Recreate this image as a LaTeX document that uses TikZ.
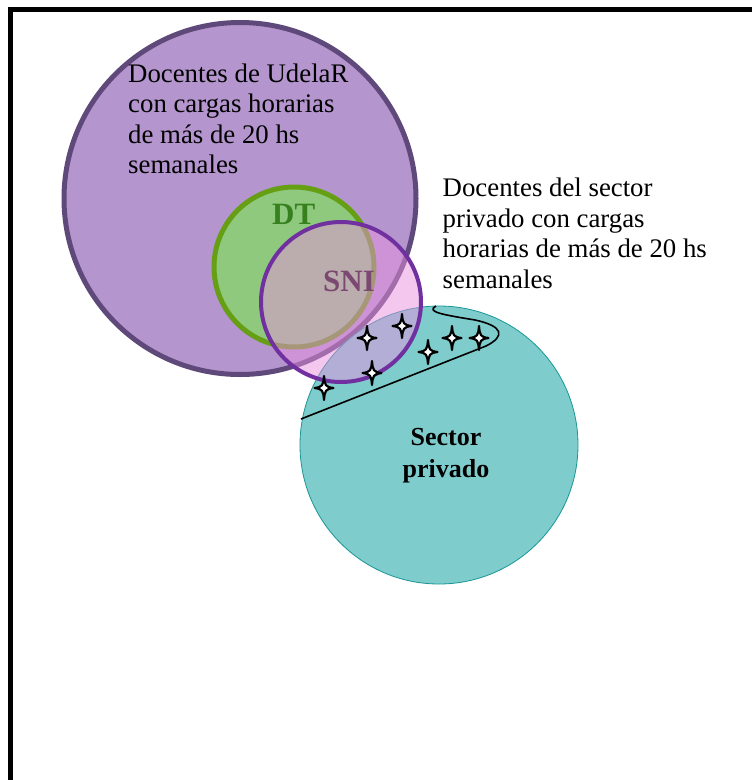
\documentclass[tikz,border=0pt]{standalone}
\usepackage{fontspec}
\setmainfont{Liberation Serif}
\definecolor{udfill}{RGB}{180,149,206}
\definecolor{udline}{RGB}{95,73,122}
\definecolor{dtfill}{RGB}{143,201,125}
\definecolor{dtline}{RGB}{102,158,20}
\definecolor{snifill}{RGB}{232,145,222}
\definecolor{sniline}{RGB}{112,48,160}
\definecolor{tealfill}{RGB}{127,204,204}
\definecolor{tealline}{RGB}{25,150,150}
\definecolor{dttext}{RGB}{55,128,30}
\definecolor{snitext}{RGB}{122,72,112}
\begin{document}
\begin{tikzpicture}[x=1pt,y=-1pt,
  txt/.style={inner sep=0pt, font=\fontsize{26.8}{30.5}\selectfont, align=left, anchor=base west},
  bigtxt/.style={inner sep=0pt, font=\bfseries\fontsize{26}{32}\selectfont},
  lbl/.style={inner sep=0pt, font=\bfseries\fontsize{31}{36}\selectfont, anchor=base west},
  ring/.style={circle, inner sep=0pt, outer sep=0pt},
  starpic/.pic={\draw[fill=white, line width=2.2pt, line join=round]
     (0,-12) .. controls (0.8,-2.5) and (1.5,-1) .. (9.5,0)
     .. controls (1.5,1) and (0.8,2.5) .. (0,12)
     .. controls (-0.8,2.5) and (-1.5,1) .. (-9.5,0)
     .. controls (-1.5,-1) and (-0.8,-2.5) .. (0,-12) -- cycle;}
]
\useasboundingbox (0,0) rectangle (752,780);
\fill[white] (0,0) rectangle (752,780);
% frame
\draw[line width=5pt] (10.5,800) -- (10.5,9.5) -- (780,9.5);
% circles
\node[ring, minimum size=352pt, draw=udline, fill=udfill, line width=5pt] (ud) at (240,198.5) {};
\node[ring, minimum size=160pt, draw=dtline, fill=dtfill, line width=5pt] (dt) at (294,267) {};
\node[ring, minimum size=278pt, draw=tealline, fill=tealfill, line width=0.8pt] (sp) at (439,445) {};
\node[ring, minimum size=160pt, draw=sniline, fill=snifill, fill opacity=0.5, draw opacity=1, line width=4pt] (sni) at (341,302) {};
% curve
\coordinate (c0) at (301,419);
\coordinate (c1) at (486,346);
\coordinate (c2) at (436,306);
\draw[line width=1.6pt] (c0) -- (c1) .. controls (506,336) and (503,326) .. (475,320) .. controls (445,315) and (425,312) .. (c2);
% stars
\pic (s1) at (324,388) {starpic};
\pic (s2) at (367,338) {starpic};
\pic (s3) at (402,326) {starpic};
\pic (s4) at (372,373) {starpic};
\pic (s5) at (428,352) {starpic};
\pic (s6) at (452,338) {starpic};
\pic (s7) at (479,338) {starpic};
% texts
\node[txt] (tud) at (128,173.8) {Docentes de UdelaR\\con cargas horarias\\de más de 20 hs\\semanales};
\node[txt] (tpr) at (442.5,288.2) {Docentes del sector\\privado con cargas\\horarias de más de 20 hs\\semanales};
\node[lbl, text=dttext] (tdt) at (272,224.3) {DT};
\node[lbl, text=snitext] (tsni) at (323,291.7) {SNI};
\node[bigtxt, align=center, anchor=base] (tsp) at (446,477) {Sector\\privado};
\end{tikzpicture}
\end{document}
